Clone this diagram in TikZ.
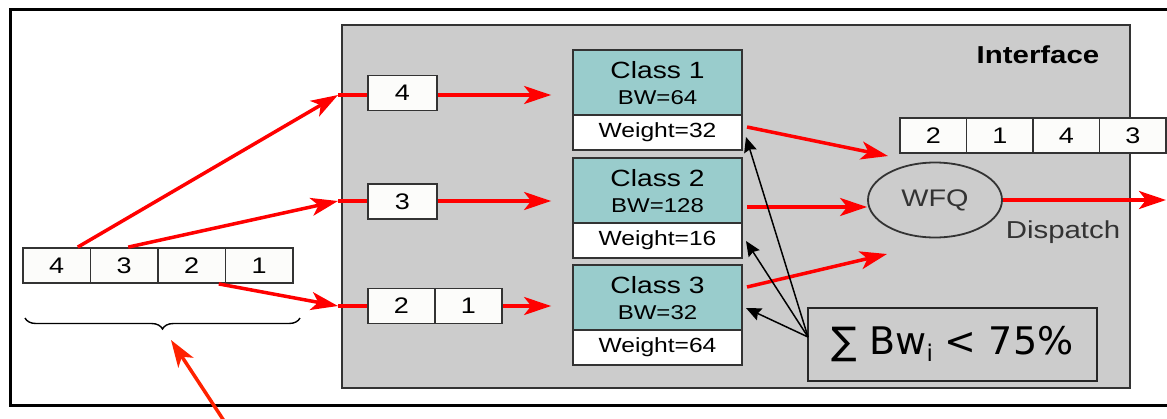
\documentclass[tikz,border=0pt]{standalone}
\usepackage{fontspec}
\setmainfont{Liberation Sans}[FakeStretch=1.2]
\newfontfamily\sumfont{DejaVu Sans}
\usetikzlibrary{arrows.meta,shapes.geometric,decorations.pathreplacing}
\definecolor{tealc}{HTML}{99CCCC}
\definecolor{grayc}{HTML}{CCCCCC}
\definecolor{edgec}{HTML}{333333}
\definecolor{cellc}{HTML}{FCFCFA}
\definecolor{redc}{HTML}{FF0000}
\definecolor{orred}{HTML}{FF2200}
\begin{document}
\begin{tikzpicture}[x=1pt,y=-1pt,
  cell/.style={draw=edgec,line width=1.8pt,fill=cellc,minimum height=35pt,inner sep=0pt,font=\fontsize{22.5}{24}\selectfont},
  classbox/.style={draw=edgec,line width=1.8pt,fill=tealc,minimum width=169pt,minimum height=65pt,inner sep=0pt},
  weightbox/.style={draw=edgec,line width=1.8pt,fill=white,minimum width=169pt,minimum height=35pt,inner sep=0pt,font=\fontsize{20.5}{22}\selectfont},
  classlbl/.style={inner sep=0pt,font=\fontsize{23.5}{25}\selectfont},
  bwlbl/.style={inner sep=0pt,font=\fontsize{20}{22}\selectfont},
  redarrow/.style={draw=redc,line width=3.5pt,-{Stealth[length=27pt,width=18pt,inset=7pt]}},
  redline/.style={draw=redc,line width=3.5pt},
  blackarrow/.style={draw=black,line width=1.5pt,-{Stealth[length=15pt,width=13pt,inset=2pt]}},
]
\useasboundingbox (0,0) rectangle (1167,418);
\clip (0,0) rectangle (1167,418);
% outer frame
\draw[line width=3pt] (1170,9) -- (10,9) -- (10,405) -- (1170,405);
% interface box
\draw[draw=edgec,fill=grayc,line width=2pt] (342,25) rectangle (1130,388);
\node[inner sep=0pt,font=\bfseries\fontsize{24.5}{26}\selectfont] (iface) at (1038,55) {Interface};

% left queue
\node[cell,minimum width=67.5pt] (q4) at (56.75,265.5) {4};
\node[cell,minimum width=67.5pt] (q3) at (124.25,265.5) {3};
\node[cell,minimum width=67.5pt] (q2) at (191.75,265.5) {2};
\node[cell,minimum width=67.5pt] (q1) at (259.25,265.5) {1};
\draw[decorate,decoration={brace,amplitude=11pt,mirror},line width=1.4pt] (25,318) -- (300,318);
\coordinate (bt) at (171,340);
\coordinate (ar0) at (230,430);
\draw[draw=orred,line width=3.5pt,-{Stealth[length=27pt,width=18pt,inset=7pt]}] (ar0) -- (bt);

% small queues
\node[cell,minimum width=69pt] (b4) at (402.5,93) {4};
\node[cell,minimum width=69pt] (b3) at (402.5,201.5) {3};
\node[cell,minimum width=67pt] (b2) at (401.5,306) {2};
\node[cell,minimum width=67pt] (b1) at (468.5,306) {1};
\coordinate (in1) at (338,95);
\coordinate (in2) at (338,201);
\coordinate (in3) at (338,306);
\draw[redarrow] ([xshift=21pt]q4.north) -- (in1);
\draw[redarrow] ([xshift=4pt]q3.north) -- (in2);
\draw[redarrow] ([xshift=27pt]q2.south) -- (in3);
\draw[redline] (in1) -- (b4.west |- in1);
\draw[redline] (in2) -- (b3.west |- in2);
\draw[redline] (in3) -- (b2.west |- in3);

% classes
\node[classbox] (c1) at (657.5,82.5) {};
\node[weightbox] (w1) at (657.5,132.5) {Weight=32};
\node[classbox] (c2) at (657.5,190.5) {};
\node[weightbox] (w2) at (657.5,240.5) {Weight=16};
\node[classbox] (c3) at (657.5,297.5) {};
\node[weightbox] (w3) at (657.5,347.5) {Weight=64};
\node[classlbl] (c1a) at (657.5,70) {Class 1};
\node[bwlbl] (c1b) at (657.5,97.5) {BW=64};
\node[classlbl] (c2a) at (657.5,178) {Class 2};
\node[bwlbl] (c2b) at (657.5,205.5) {BW=128};
\node[classlbl] (c3a) at (657.5,285) {Class 3};
\node[bwlbl] (c3b) at (657.5,312.5) {BW=32};

\draw[redarrow,shorten >=21pt] (b4.east |- in1) -- (c1.west |- in1);
\draw[redarrow,shorten >=21pt] (b3.east |- in2) -- (c2.west |- in2);
\draw[redarrow,shorten >=21pt] (b1.east |- in3) -- (c3.west |- in3);

% WFQ
\node[draw=edgec,line width=1.8pt,ellipse,minimum width=134pt,minimum height=75pt,inner sep=0pt,font=\fontsize{24}{26}\selectfont,text=edgec] (wfq) at (935,200) {WFQ};
\node[inner sep=0pt,font=\fontsize{24.5}{26}\selectfont,text=edgec] (disp) at (1063,232) {Dispatch};
\coordinate (o1) at (747,127);
\coordinate (o2) at (747,207);
\coordinate (o3) at (747,287);
\coordinate (e1) at (888,156);
\coordinate (e3) at (887,254);
\draw[redarrow] (o1) -- (e1);
\draw[redarrow] (o2) -- (o2 -| wfq.west);
\draw[redarrow] (o3) -- (e3);
\coordinate (outp) at (1166,200);
\draw[redarrow] (wfq.east) -- (outp);

% right queue
\node[cell,minimum width=66.5pt] (r2) at (933.25,135.5) {2};
\node[cell,minimum width=66.5pt] (r1) at (999.75,135.5) {1};
\node[cell,minimum width=66.5pt] (r4) at (1066.25,135.5) {4};
\node[cell,minimum width=66.5pt] (r3) at (1132.75,135.5) {3};

% sum box
\node[draw=black!85,line width=1.6pt,minimum width=289pt,minimum height=73pt,inner sep=0pt,font=\sumfont\fontsize{38}{42}\selectfont] (sum) at (952.5,344.5) {∑ Bw\raisebox{-7pt}{\fontsize{23}{23}\selectfont i} < 75\%};
\coordinate (s0) at (808,337);
\coordinate (k1) at (746,137);
\coordinate (k2) at (746,241);
\coordinate (k3) at (746,308);
\draw[blackarrow] (s0) -- (k1);
\draw[blackarrow] (s0) -- (k2);
\draw[blackarrow] (s0) -- (k3);
\end{tikzpicture}
\end{document}
